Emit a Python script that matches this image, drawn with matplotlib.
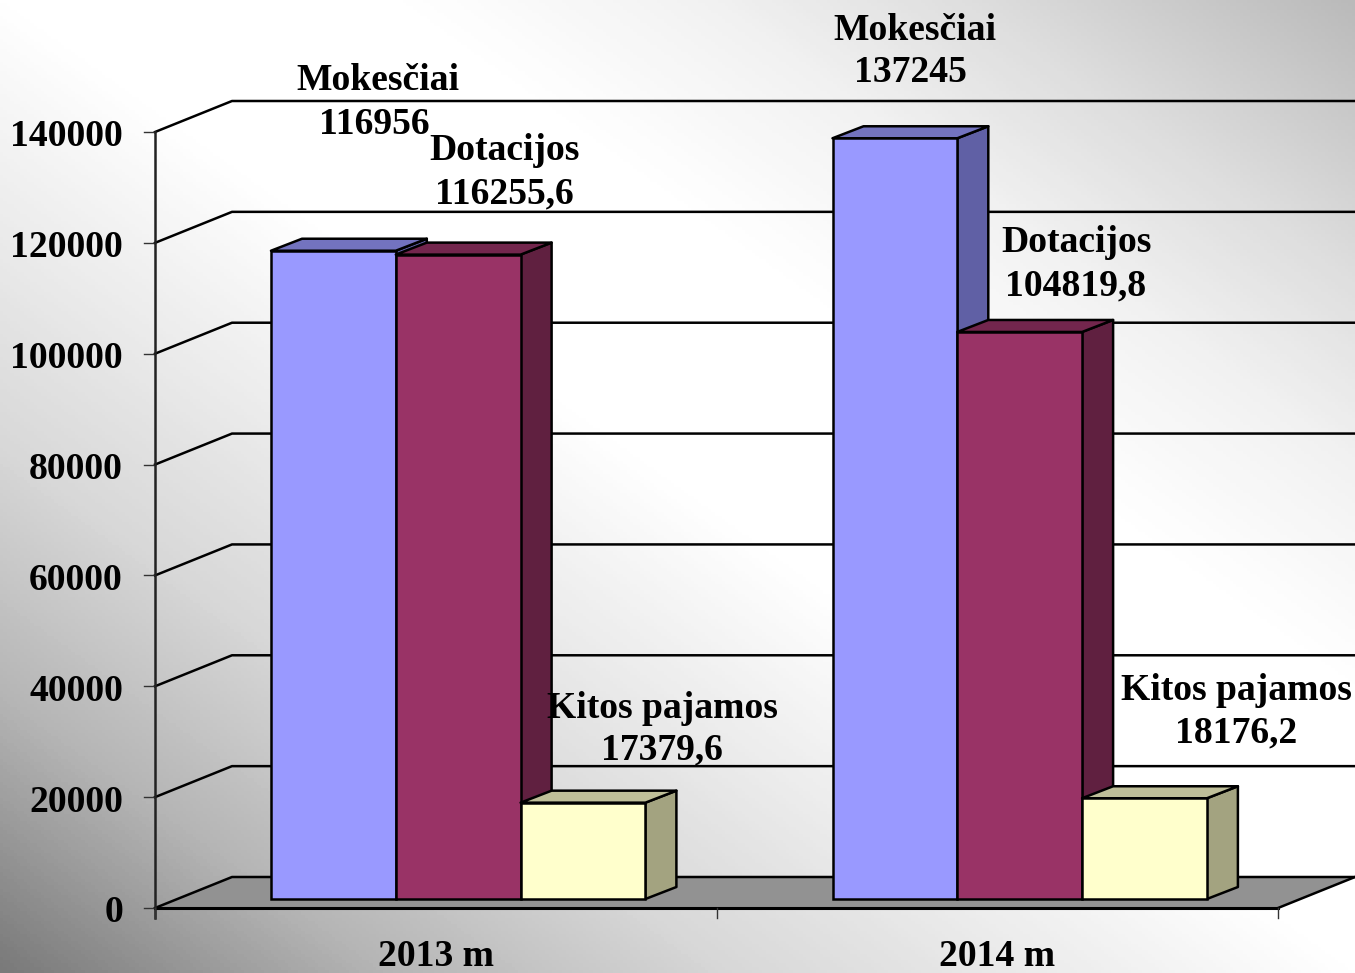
import numpy as np
import matplotlib
matplotlib.use('Agg')
import matplotlib.pyplot as plt
from matplotlib.colors import LinearSegmentedColormap
from matplotlib.patches import Polygon, Rectangle

W = 1355
H = 973

years = ['2013 m', '2014 m']
series = ['Mokesčiai', 'Dotacijos', 'Kitos pajamos']
# bar heights
mokesciai = [116956, 137245]
dotacijos = [116255.6, 102300]
kitos = [17379.6, 18176.2]
# values as printed on the chart
label_values = [['116956', '116255,6', '17379,6'], ['137245', '104819,8', '18176,2']]
y_ticks = [0, 20000, 40000, 60000, 80000, 100000, 120000, 140000]

front_colors = ['#9999FF', '#993366', '#FFFFCC']
top_colors = ['#7373BF', '#73264D', '#BFBF99']
side_colors = ['#6060A5', '#602040', '#A3A380']

# where the labels sit, in pixels: name line and value line
name_pos = [[(378, 77), (504, 147), (662, 704)], [(915, 26), (1076, 239), (1236, 686)]]
value_pos = [[(374, 120), (504, 190), (662, 746)], [(910, 69), (1076, 282), (1236, 729)]]

plt.rcParams['font.family'] = ['Liberation Serif', 'DejaVu Serif']
font = dict(fontsize=27.1, fontweight='bold', color='black')

fig = plt.figure(figsize=(W / 100, H / 100), dpi=100)

# background gradient
bg = fig.add_axes([0, 0, 1, 1], zorder=0)
bg.axis('off')
cmap = LinearSegmentedColormap.from_list(
    'bg', [(0, '#7A7A7A'), (0.14, '#B5B5B5'), (0.27, '#D8D8D8'), (0.38, '#EBEBEB'), (0.5, '#FFFFFF'),
           (0.65, '#FFFFFF'), (0.76, '#F2F2F2'), (0.87, '#DCDCDC'), (1, '#BABABA')])
xx, yy = np.meshgrid(np.linspace(0, 1, 400), np.linspace(0, 1, 300))
bg.imshow((xx + yy) / 2, origin='lower', aspect='auto', cmap=cmap, vmin=0, vmax=1, extent=[0, 1, 0, 1])

# axes fill the figure, x in category units, y in chart units
x0 = 155
cat_w = (1278 - 155) / 2
y0 = 908
y_scale = (908 - 132) / 140000
ax = fig.add_axes([0, 0, 1, 1], zorder=1)
ax.patch.set_alpha(0)
ax.axis('off')
ax.set_xlim(-x0 / cat_w, (W - x0) / cat_w)
ax.set_ylim((y0 - H) / y_scale, y0 / y_scale)


def dx(p):
    return p / cat_w


def dy(p):
    return p / y_scale


lw = 1.8
wall_x = dx(77)
wall_y = dy(31)
x_end = 2

# floor
ax.add_patch(Polygon([(0, 0), (wall_x, wall_y), (x_end + wall_x, wall_y), (x_end, 0)],
                     closed=True, fc='#929292', ec='none', zorder=1))
ax.plot([0, x_end], [0, 0], color='black', lw=lw + 0.4, zorder=2)
ax.plot([x_end, x_end + wall_x], [0, wall_y], color='black', lw=lw, zorder=2)

# gridlines on side and back wall
for v in y_ticks:
    ax.plot([0, wall_x, x_end + wall_x], [v, v + wall_y, v + wall_y], color='black', lw=lw, zorder=2)
    ax.plot([-dx(11), 0], [v, v], color='#333333', lw=1, zorder=2)
    ax.text(-dx(32), v - dy(1), f'{v}', ha='right', va='center_baseline', zorder=5, **font)

ax.plot([0, 0], [-dy(10), 140000], color='#222222', lw=lw, zorder=2)
for c in range(3):
    ax.plot([c, c], [-dy(10), 0], color='#333333', lw=1, zorder=2)

# bars
bar_w = dx(124.8)
depth_x = dx(31)
depth_y = dy(12)
base = dy(9)
left = dx(116)
all_values = [mokesciai, dotacijos, kitos]
z = 3
for c in range(len(years)):
    for s in range(len(series)):
        v = all_values[s][c]
        xa = c + left + s * bar_w
        xb = xa + bar_w
        top = base + v
        ax.add_patch(Polygon([(xb, base), (xb + depth_x, base + depth_y), (xb + depth_x, top + depth_y), (xb, top)],
                             closed=True, fc=side_colors[s], ec='black', lw=lw, zorder=z, joinstyle='round'))
        ax.add_patch(Polygon([(xa, top), (xa + depth_x, top + depth_y), (xb + depth_x, top + depth_y), (xb, top)],
                             closed=True, fc=top_colors[s], ec='black', lw=lw, zorder=z, joinstyle='round'))
        ax.add_patch(Rectangle((xa, base), bar_w, v, fc=front_colors[s], ec='black', lw=lw, zorder=z))
        z += 0.1

# data labels
for c in range(len(years)):
    for s in range(len(series)):
        nx, ny = name_pos[c][s]
        vx, vy = value_pos[c][s]
        fig.text(nx / W, 1 - ny / H, series[s], ha='center', va='center_baseline', zorder=6, **font)
        fig.text(vx / W, 1 - vy / H, label_values[c][s], ha='center', va='center_baseline', zorder=6, **font)

# category labels
for c in range(len(years)):
    ax.text(c + 0.5, -dy(45), years[c], ha='center', va='center_baseline', zorder=5, **font)

fig.savefig('out.png', dpi=100)
